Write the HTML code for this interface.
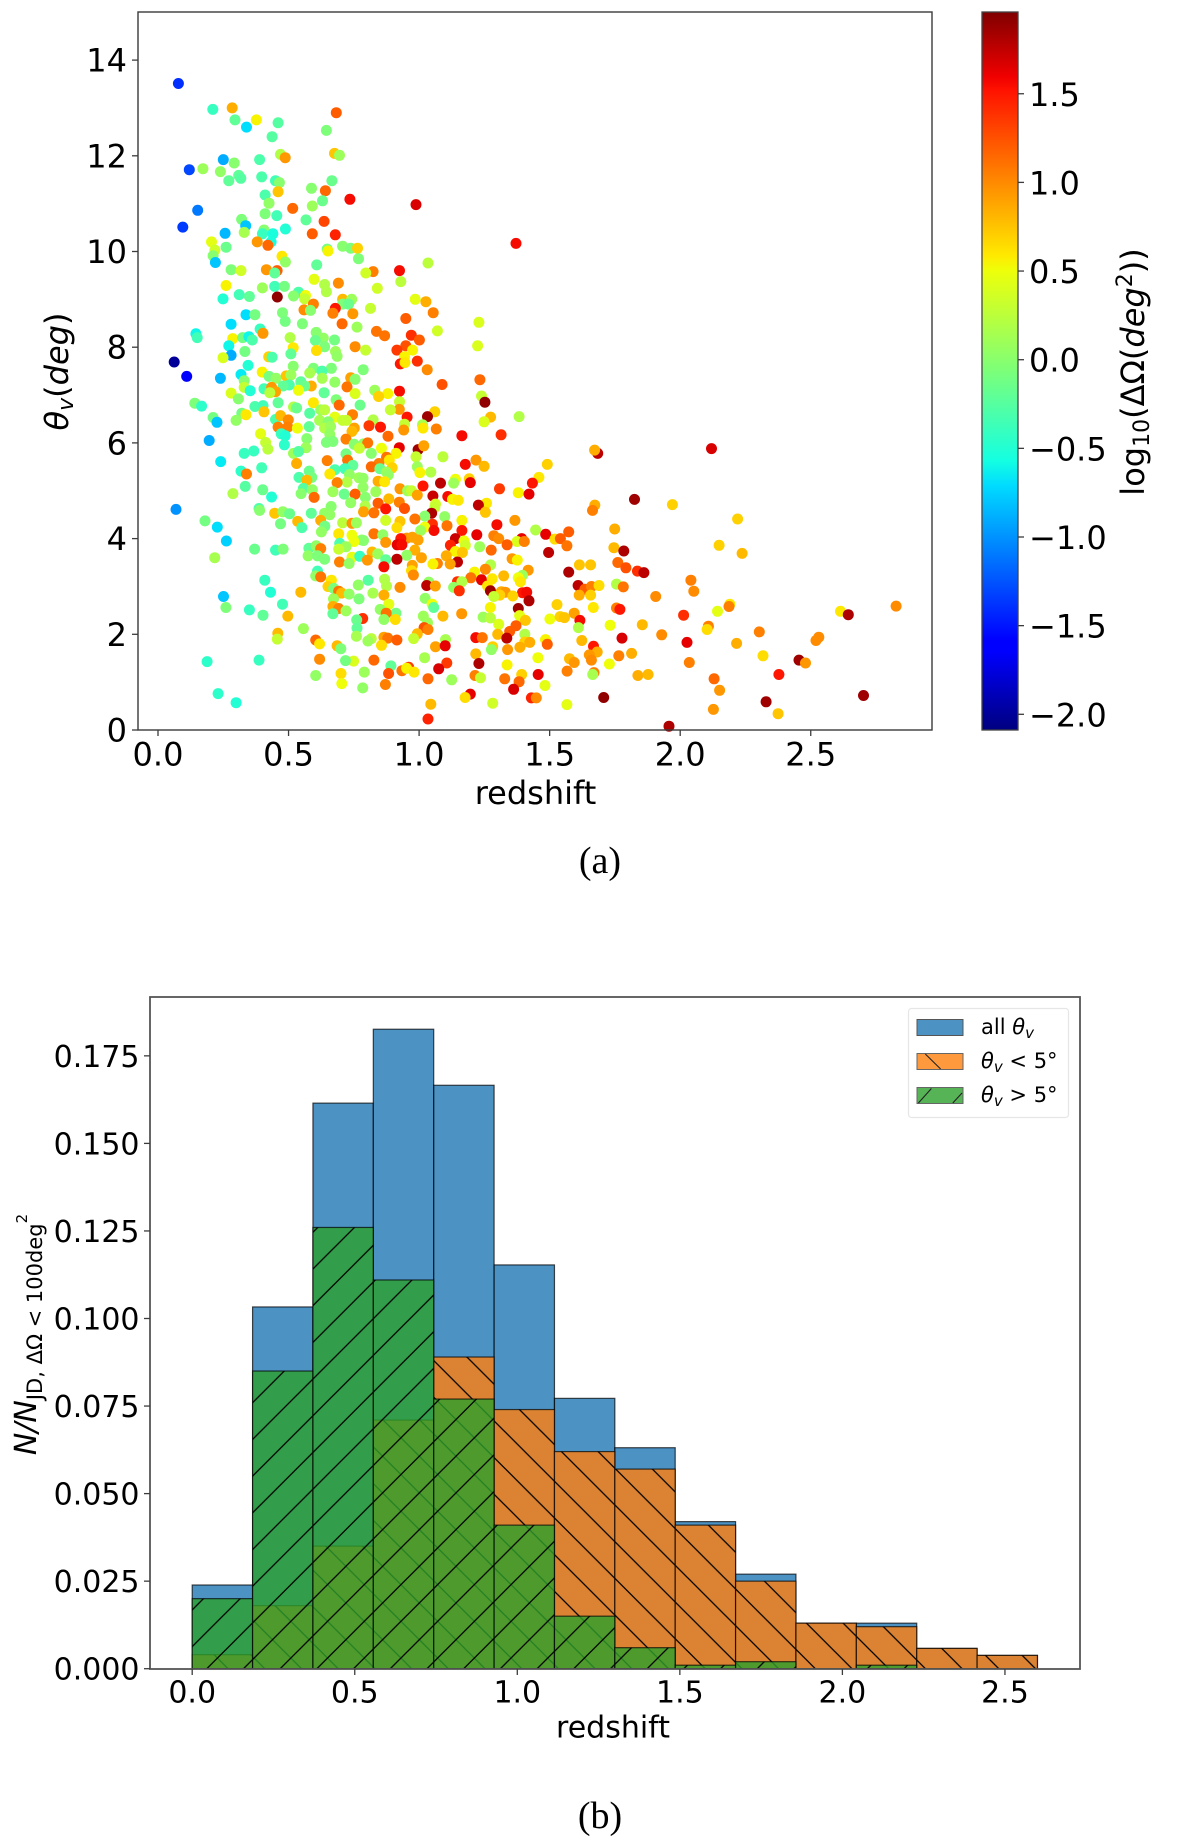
<!DOCTYPE html>
<html lang="en">
<head>
<meta charset="utf-8">
<title>Viewing angle vs redshift scatter and histogram</title>
<style>
html,body{margin:0;padding:0;background:#fff;width:1200px;height:1847px;overflow:hidden}
svg{display:block;font-family:"DejaVu Sans","Liberation Sans",sans-serif;fill:#000}
.math{font-style:italic}
.serif{font-family:"Liberation Serif",serif}
</style>
</head>
<body>
<svg id="figure" xmlns="http://www.w3.org/2000/svg" width="1200" height="1847" viewBox="0 0 1200 1847">
  <defs>
    <linearGradient id="jetGrad" x1="0" y1="1" x2="0" y2="0">
      <stop offset="0" stop-color="#000080"/><stop offset="0.11" stop-color="#0000ff"/>
      <stop offset="0.125" stop-color="#0000ff"/><stop offset="0.34" stop-color="#00dbff"/>
      <stop offset="0.375" stop-color="#14ffe2"/><stop offset="0.5" stop-color="#7cff79"/>
      <stop offset="0.64" stop-color="#eeff09"/><stop offset="0.66" stop-color="#ffea00"/>
      <stop offset="0.89" stop-color="#ff1300"/><stop offset="0.91" stop-color="#f00000"/>
      <stop offset="1" stop-color="#800000"/>
    </linearGradient>
    <pattern id="hatchBack" patternUnits="userSpaceOnUse" width="36.7" height="36.7" patternTransform="translate(27.4,0)">
      <path d="M-1,-1 L37.7,37.7 M-1,35.7 L1,37.7 M35.7,-1 L37.7,1" stroke="#000" stroke-width="1.3" fill="none"/>
    </pattern>
    <pattern id="hatchFwd" patternUnits="userSpaceOnUse" width="36.7" height="36.7" patternTransform="translate(3.8,0)">
      <path d="M-1,37.7 L37.7,-1 M-1,1 L1,-1 M35.7,37.7 L37.7,35.7" stroke="#000" stroke-width="1.3" fill="none"/>
    </pattern>
  </defs>

  <g id="panelA">
    <rect x="138" y="12" width="794" height="718" fill="#fff"/>
    <g id="dots"></g>
    <rect x="138" y="12" width="794" height="718" fill="none" stroke="#3a3a3a" stroke-width="1.4"/>
    <g id="axisA"></g>
    <text x="535.5" y="804" font-size="32" text-anchor="middle">redshift</text>
    <text transform="translate(68,371.5) rotate(-90)" font-size="32" text-anchor="middle"><tspan class="math">θ</tspan><tspan class="math" font-size="22" dy="5">v</tspan><tspan dy="-5">(</tspan><tspan class="math">deg</tspan><tspan>)</tspan></text>
    <rect x="982" y="12" width="36" height="718" fill="url(#jetGrad)" stroke="#444" stroke-width="1.3"/>
    <g id="axisC"></g>
    <text transform="translate(1144,372) rotate(-90)" font-size="32" text-anchor="middle">log<tspan font-size="22" dy="5">10</tspan><tspan dy="-5">(ΔΩ(</tspan><tspan class="math">deg</tspan><tspan font-size="22" dy="-12">2</tspan><tspan dy="12">))</tspan></text>
    <text class="serif" x="600" y="873" font-size="38" text-anchor="middle">(a)</text>
  </g>

  <g id="panelB">
    <g id="bars"></g>
    <rect x="150" y="997" width="930" height="672" fill="none" stroke="#555" stroke-width="1.8"/>
    <g id="axisB"></g>
    <text x="613" y="1737.5" font-size="30" text-anchor="middle">redshift</text>
    <text transform="translate(36,1334.5) rotate(-90)" font-size="30" text-anchor="middle"><tspan class="math">N/N</tspan><tspan font-size="21" dy="6">JD, ΔΩ &lt; 100deg</tspan><tspan font-size="15" dy="-15">2</tspan></text>
    <g>
      <rect x="908.5" y="1008.5" width="160" height="109" rx="3" fill="#fff" stroke="#e6e6e6" stroke-width="1.2"/>
      <g>
        <rect x="917" y="1019.5" width="46" height="16" fill="#4c92c3" stroke="#555" stroke-width="1"/>
        <text x="981" y="1034" font-size="21">all <tspan class="math">θ</tspan><tspan class="math" font-size="15" dy="4">v</tspan></text>
      </g>
      <g>
        <rect x="917" y="1053.5" width="46" height="16" fill="#ff993e" stroke="#666" stroke-width="1"/>
        <path d="M925.3,1054 L940.6,1069" stroke="#222" stroke-width="1.1" fill="none"/>
        <text x="981" y="1068" font-size="21"><tspan class="math">θ</tspan><tspan class="math" font-size="15" dy="4">v</tspan><tspan dy="-4"> &lt; 5°</tspan></text>
      </g>
      <g>
        <rect x="917" y="1087.5" width="46" height="16" fill="#56b356" stroke="#666" stroke-width="1"/>
        <path d="M918.4,1103 L931.4,1088.5 M952.8,1103 L962,1093" stroke="#222" stroke-width="1.1" fill="none"/>
        <text x="981" y="1102" font-size="21"><tspan class="math">θ</tspan><tspan class="math" font-size="15" dy="4">v</tspan><tspan dy="-4"> &gt; 5°</tspan></text>
      </g>
    </g>
    <text class="serif" x="600" y="1828" font-size="38" text-anchor="middle">(b)</text>
  </g>
</svg>

<script>
const redshift = [.078,.21,.284,.295,.339,.377,.46,.437,.645,.683,.469,.487,.676,.695,.25,.292,.389,.12,.172,.239,.309,.317,.271,.397,.45,.465,.666,.588,.641,.46,.41,.735,.988,.152,.425,.591,.63,.516,.41,.455,.32,.567,.636,.095,.336,.257,.33,.406,.4,.44,.488,.591,.679,.433,.38,.421,1.371,.205,.218,.261,.707,.738,.764,.648,.651,.475,.211,.768,.488,.22,1.034,.608,.28,.318,.415,.456,.447,.824,.796,.925,.93,.598,.691,.261,.447,.484,.638,.645,.4,.84,.538,.311,.35,.249,.457,.519,.565,.562,.707,.742,.985,1.026,.595,.707,.73,.679,.814,.559,.584,.67,.746,1.054,.337,.371,.477,.487,.949,1.229,.28,.553,.705,.762,.391,.145,.15,.402,.606,.837,.868,1.07,.286,.324,.348,.361,.506,.633,.603,.676,.97,1.001,.271,1.224,.518,.755,.638,.949,.915,.975,.607,.795,.333,.68,.509,.28,.249,.424,.437,.686,.944,.062,.345,.928,.946,.993,.518,1.031,.664,.595,.786,.399,.581,.628,.11,.239,.318,.425,.452,.491,.509,.629,.738,.755,1.233,1.088,.33,.547,.677,.587,.562,.503,.479,.33,.406,.435,.45,.724,.538,.353,.428,.636,.83,.925,.88,.28,.755,.845,1.239,.308,.682,1.252,.925,.595,.46,.141,.167,.774,.694,.371,.402,.519,.531,.924,.89,.623,.638,.406,.581,.321,.337,1.06,.745,.677,.211,1.032,.954,1.274,1.383,.226,.299,.45,.469,.499,.619,.652,.707,.722,.824,.944,1.013,1.249,.46,.497,.534,.579,.638,.661,.752,.808,.852,.941,1.066,1.015,.393,.472,.658,.743,1.164,1.314,.196,.57,.72,.881,.487,.412,.645,.67,.751,.787,.803,.484,.567,.421,.771,.856,.924,.996,1.018,.367,.33,.519,.538,.817,.912,.72,1.091,.988,.875,.24,.531,.648,.886,.726,1.218,1.177,.746,.846,1.249,1.491,.817,.897,.397,.318,.339,.579,.85,.993,.875,1.003,1.045,.677,.716,.658,.733,.882,.54,.589,.77,.785,1.139,1.192,.57,.724,.686,.843,.868,1.459,1.196,1.132,1.082,1.434,.334,1.015,.785,.557,.927,.956,.971,1.308,.401,.591,.993,.287,.548,.67,.713,.755,.834,1.38,1.421,.435,.598,.794,1.053,1.11,1.128,1.15,.884,.738,.843,.924,1.063,1.258,1.227,.069,.387,.663,.793,.872,.944,1.06,.389,.787,.827,1.254,.447,.478,.504,.587,1.048,.638,.658,1.022,1.098,.18,.535,.623,.872,.984,1.164,1.367,.469,.707,.743,.76,.927,1.051,1.107,1.298,.227,.551,.639,.915,1.022,1.006,.626,1.057,1.164,1.446,1.573,.262,.692,.827,1.485,.743,.861,1.286,1.221,1.52,1.541,.953,.974,.93,1.139,1.305,1.393,.78,.787,.751,.996,1.375,1.403,1.172,.696,.872,.916,.934,1.12,1.177,1.337,1.566,.72,.578,.606,.623,.692,.984,1.232,.37,.45,.479,1.276,1.139,1.166,.82,1.496,.575,.611,.842,.953,.743,.773,.217,.638,1.104,1.009,.802,.872,.915,1.356,1.376,.695,.732,1.07,1.053,1.147,1.119,.974,.865,1.274,1.614,.971,1.418,1.254,1.573,1.212,1.396,.611,.978,1.324,.604,.623,1.198,1.239,1.38,1.388,1.28,1.147,1.164,.409,.805,.868,.664,.767,1.037,.875,1.029,1.062,.927,.651,.673,1.132,1.262,1.609,1.635,1.66,1.154,1.273,.692,.547,.431,.703,.732,.823,1.315,1.33,1.396,1.412,.865,1.309,1.286,1.359,.251,1.657,1.613,.77,.672,1.023,1.421,.477,.884,1.05,1.528,.26,.67,.692,1.056,1.273,1.667,.35,.851,.72,1.38,.911,.874,.67,.402,1.163,1.594,1.016,1.385,1.091,.497,1.501,1.54,1.557,1.245,1.273,.865,.909,.784,.761,1.407,1.616,1.032,1.305,1.371,1.61,.762,1.019,.557,1.034,1.347,.993,.459,1.301,1.405,.457,.76,.865,.88,.915,1.217,1.242,1.336,.817,.804,.604,1.101,1.484,1.405,1.424,1.491,.979,1.623,.619,.686,.856,1.063,1.1,1.282,1.386,1.668,.7,1.339,1.277,1.217,.749,.718,.827,.619,.188,.387,1.021,1.455,1.576,1.594,1.229,1.106,1.337,.892,.96,.934,.952,1.075,.981,.701,.883,.79,.604,1.456,1.393,1.567,1.67,1.665,1.214,1.235,1.034,1.328,1.125,1.383,.704,.871,1.482,.784,1.362,.23,1.196,1.176,1.43,1.449,.299,1.282,1.566,1.045,1.034,1.684,1.672,2.12,1.825,1.97,1.673,1.664,2.22,1.749,2.149,1.746,1.784,2.237,1.761,1.657,1.792,1.836,1.861,2.041,1.756,1.782,1.689,2.052,1.906,2.19,2.187,2.143,1.756,1.769,2.614,2.644,2.827,2.013,1.732,1.855,2.108,2.103,2.303,2.531,2.52,1.929,1.777,2.026,2.216,1.682,1.652,1.66,1.814,1.765,2.317,2.455,2.48,2.035,1.729,2.378,1.838,1.877,2.13,2.151,1.707,2.329,2.702,2.127,2.375,1.957];
const thetaV = [13.51,12.97,13.0,12.75,12.6,12.75,12.69,12.4,12.53,12.9,12.03,11.96,12.05,12.01,11.92,11.85,11.92,11.71,11.73,11.67,11.59,11.53,11.48,11.56,11.48,11.44,11.48,11.32,11.27,11.25,11.18,11.09,10.98,10.86,11.01,10.95,11.06,10.9,10.79,10.75,10.67,10.66,10.63,10.51,10.54,10.38,10.4,10.45,10.37,10.37,10.47,10.37,10.35,10.2,10.2,10.13,10.17,10.2,10.03,10.09,10.11,10.07,10.07,10.05,10.01,9.9,9.91,9.85,9.78,9.77,9.76,9.72,9.62,9.6,9.62,9.6,9.55,9.58,9.55,9.6,9.37,9.42,9.34,9.29,9.27,9.27,9.31,9.16,9.24,9.23,9.15,9.1,9.06,9.01,9.05,9.07,9.08,9.01,9.0,9.0,9.0,8.95,8.9,8.9,8.9,8.81,8.81,8.78,8.77,8.71,8.7,8.72,8.68,8.68,8.72,8.54,8.6,8.52,8.48,8.49,8.49,8.42,8.38,8.28,8.2,8.29,8.31,8.33,8.24,8.34,8.18,8.2,8.22,8.15,8.2,8.19,8.14,8.15,8.25,8.15,8.03,8.03,7.99,8.01,8.01,8.03,7.94,7.94,7.93,7.94,7.91,7.91,7.86,7.83,7.78,7.8,7.79,7.81,7.8,7.69,7.62,7.65,7.68,7.71,7.6,7.53,7.56,7.56,7.53,7.48,7.46,7.5,7.39,7.35,7.43,7.39,7.35,7.4,7.42,7.35,7.36,7.33,7.32,7.22,7.3,7.28,7.27,7.19,7.19,7.21,7.19,7.16,7.13,7.16,7.07,7.17,7.1,7.09,7.05,7.05,7.1,7.08,7.03,7.04,7.03,6.97,6.98,6.92,6.9,6.85,6.86,6.84,6.84,6.83,6.77,6.79,6.79,6.76,6.78,6.75,6.73,6.7,6.69,6.69,6.69,6.65,6.62,6.62,6.59,6.65,6.59,6.54,6.53,6.55,6.54,6.54,6.55,6.43,6.47,6.49,6.57,6.48,6.47,6.44,6.47,6.47,6.48,6.39,6.38,6.44,6.33,6.33,6.31,6.34,6.31,6.34,6.31,6.36,6.33,6.27,6.29,6.31,6.19,6.19,6.18,6.24,6.15,6.17,6.05,6.09,6.08,6.14,6.15,6.01,6.01,6.03,5.97,5.98,6.0,5.96,5.9,5.87,5.89,5.89,5.9,5.86,5.94,5.83,5.78,5.78,5.82,5.78,5.78,5.77,5.71,5.71,5.7,5.61,5.57,5.63,5.64,5.64,5.64,5.55,5.53,5.57,5.51,5.55,5.5,5.48,5.48,5.41,5.35,5.41,5.46,5.5,5.39,5.38,5.39,5.44,5.46,5.35,5.34,5.33,5.28,5.28,5.27,5.26,5.24,5.25,5.22,5.18,5.17,5.2,5.19,5.28,5.17,5.16,5.16,5.16,5.09,5.1,5.07,5.05,5.04,5.0,5.0,5.04,5.02,5.02,4.91,4.94,4.94,4.98,4.93,4.93,4.98,4.96,4.93,4.87,4.86,4.86,4.89,4.88,4.82,4.8,4.83,4.75,4.74,4.76,4.72,4.74,4.7,4.61,4.63,4.67,4.68,4.62,4.63,4.65,4.59,4.56,4.54,4.55,4.53,4.56,4.52,4.53,4.53,4.53,4.5,4.47,4.46,4.37,4.36,4.38,4.38,4.41,4.38,4.38,4.31,4.33,4.32,4.33,4.36,4.3,4.27,4.29,4.24,4.23,4.26,4.23,4.24,4.17,4.14,4.17,4.17,4.18,4.14,3.95,4.1,4.1,4.09,4.07,4.08,4.06,4.08,3.99,4.0,4.01,4.03,4.0,4.0,4.0,4.0,3.97,3.96,3.94,3.97,3.94,3.94,3.95,3.9,3.92,3.87,3.87,3.86,3.86,3.87,3.85,3.83,3.8,3.85,3.79,3.78,3.76,3.83,3.78,3.76,3.78,3.76,3.73,3.71,3.72,3.71,3.64,3.64,3.68,3.65,3.61,3.63,3.6,3.57,3.64,3.6,3.55,3.56,3.57,3.58,3.55,3.51,3.48,3.48,3.47,3.51,3.47,3.44,3.41,3.45,3.45,3.33,3.34,3.36,3.3,3.3,3.23,3.32,3.24,3.22,3.22,3.2,3.18,3.14,3.18,3.1,3.16,3.1,3.1,3.13,3.13,3.15,3.13,3.03,3.09,3.01,3.02,3.01,2.98,3.0,2.96,2.98,3.01,3.02,2.94,3.0,2.91,2.91,2.9,2.88,2.88,2.86,2.84,2.86,2.89,2.88,2.87,2.88,2.82,2.82,2.79,2.8,2.79,2.82,2.82,2.74,2.74,2.75,2.7,2.63,2.63,2.63,2.62,2.56,2.58,2.54,2.56,2.56,2.56,2.51,2.52,2.49,2.54,2.44,2.44,2.43,2.4,2.43,2.44,2.38,2.39,2.38,2.38,2.32,2.37,2.35,2.36,2.34,2.31,2.31,2.33,2.3,2.29,2.29,2.24,2.21,2.18,2.14,2.13,2.14,2.12,2.1,2.06,2.01,2.02,2.0,2.0,1.9,1.96,1.94,1.92,1.88,1.93,1.93,1.92,1.91,1.86,1.88,1.89,1.89,1.84,1.83,1.79,1.91,1.87,1.8,1.76,1.77,1.74,1.76,1.74,1.73,1.75,1.7,1.68,1.68,1.59,1.44,1.45,1.46,1.48,1.43,1.46,1.51,1.51,1.49,1.41,1.39,1.4,1.36,1.34,1.31,1.24,1.29,1.28,1.21,1.18,1.18,1.21,1.14,1.16,1.16,1.23,1.2,1.16,1.14,1.09,1.07,1.07,1.05,1.01,.97,.95,.93,.88,.85,.76,.75,.68,.67,.67,.57,.56,.53,.54,.23,5.78,5.85,5.88,4.82,4.71,4.7,4.59,4.41,4.2,3.86,3.81,3.74,3.69,3.5,3.45,3.39,3.32,3.29,3.13,3.05,2.99,3.02,2.9,2.79,2.63,2.58,2.48,2.55,2.52,2.48,2.41,2.59,2.4,2.19,2.2,2.17,2.1,2.05,1.94,1.87,1.99,1.92,1.83,1.81,1.63,1.57,1.46,1.6,1.55,1.55,1.46,1.4,1.41,1.38,1.16,1.14,1.16,1.07,.83,.68,.59,.72,.43,.34,.08];
const logArea = [-1.4,-.4,.85,-.2,-.7,.55,-.25,-.25,-.05,1.2,.2,.95,.75,.1,-.9,0,-.3,-1.3,.1,.05,-.2,-.25,-.2,-.3,-.35,0,-.15,0,1.15,.75,-.3,1.55,1.65,-1.1,.05,.1,-.15,1.15,-.05,-.35,-.05,-.2,1.3,-1.35,-.8,-.85,.15,0,-.4,-.55,-.5,1.2,1.45,-.55,.95,1.15,1.55,.45,.35,-.15,0,-.05,.7,-.1,.55,.6,0,-.05,.05,-.8,.25,-.2,-.05,.35,.95,1.2,-.2,1.05,.35,1.55,.25,.45,1,.55,-.35,-.1,.2,.2,.1,.35,-.3,-.35,-.2,-.5,1.9,0,.5,.3,.8,.1,.45,.85,1.05,-.05,-.15,1.5,.3,1,0,1.05,.95,1.05,-.7,-.1,-.05,-.1,1.2,.4,-.7,-.05,1.15,.1,-.4,-.6,-.35,.95,0,1.1,1.1,.35,.55,-.1,-.6,-.3,.2,.05,-.15,-.1,1.4,1.2,-.6,.4,.6,1,-.05,1.25,1.35,.55,.65,.3,-.1,.1,-.2,-.9,.4,.7,-.3,.05,.55,-2,-.5,1.5,.6,1.4,0,1,-.05,-.05,-.05,.55,.15,-.3,-1.6,-.85,-.65,-.1,.05,.75,.1,.15,.9,0,1.15,1.25,0,-.2,.05,.85,-.15,-.3,-.2,.3,-.35,.95,.9,1.1,.5,-.5,.25,-.2,.1,1.55,.55,.4,.4,.7,.3,0,-.05,1.9,.3,.6,-.2,-.05,-.45,-.15,1.15,-.3,-.35,.2,-.15,.95,.3,.1,.25,.75,-.25,-.1,.6,.7,1.05,.45,-.1,1.85,1.5,.8,.2,-.8,.05,-.3,.8,1,.15,0,.3,.3,.2,.3,.15,.4,1.05,1.05,.5,-.2,.2,.1,.9,1.35,1.5,.95,1.05,.6,.45,-.4,.05,.8,1.55,1.4,-.9,0,1.05,1.15,-.5,.3,-.05,-.05,0,.05,1.1,-.45,.1,.25,.3,.5,1.6,1.85,.9,-.4,-.4,.1,-.25,0,.55,-.1,.25,.3,1.1,-.65,.85,1.05,.6,1.1,.95,1.55,-.2,1.05,.8,.7,1.15,.7,-.35,-.45,1.05,-.15,-.15,.1,.1,.55,.2,-.3,-.35,.6,.05,.05,-.3,-.1,.1,.05,.5,.7,.8,.2,1.05,.85,.6,.6,1.6,.1,1.75,1.5,-.25,1.5,.05,-.25,.95,.1,.3,1.35,-.15,.05,.9,.2,0,.1,-.15,1.2,.1,.55,1.6,-.5,1.15,0,1.7,1.55,.55,.6,.8,.05,1.2,1.05,.35,.6,1.75,-1,-.3,0,.2,1.5,1.25,.3,0,.9,1.1,.75,.75,.05,-.15,-.2,1.8,.05,.05,0,.05,-.1,.8,.85,.35,1.1,.55,.95,-.1,.25,.95,.1,.75,1.4,1.1,1.55,-.7,-.3,-.1,.65,.5,.1,.05,1.55,1.5,.2,1.2,-.75,.6,1.1,1.6,.5,.05,1.05,1.6,.65,1.2,.95,.9,1.5,1.7,1,1.6,.05,0,.5,.9,.4,1.05,.5,-.3,.95,1.6,1.55,1.45,.35,1.2,1.1,.1,-.2,.05,1.05,.3,.85,.1,-.15,-.35,-.05,1.15,.55,.75,.8,1.75,.05,-.05,.1,.05,.45,-.4,.15,-.05,.85,.9,.95,-.2,1.75,.95,.55,1.05,.05,1.05,.55,1.75,.9,.9,1.55,.2,.75,.65,.95,1,1.8,.55,.1,-.35,1,.8,.05,1.1,1.1,1.6,.5,.6,.6,1.4,.2,-.4,-.25,.2,.6,.05,.05,.2,1.75,.9,1,.7,-.05,.05,.6,1.75,1.2,1.05,1.4,1.85,1.1,.8,-.5,.8,.05,.15,.85,.95,1.5,1.55,.85,.7,.3,.7,-.8,.7,.85,-.05,.1,.05,1.8,-.35,.45,.5,.7,-.05,.85,1.05,-.2,.55,.6,-.4,.05,.1,1.85,-.1,1.1,-.2,-.2,.95,.9,.1,.45,.8,.8,.5,.7,.75,.1,.25,.05,.65,1.4,-.15,.75,1.55,.1,.4,1.2,.2,-.2,1.25,.1,1.05,1.2,.8,.8,.8,.2,.3,.15,.9,1.1,1.2,1.55,1.1,1.75,.25,.1,1.15,.15,.55,.7,.85,1.2,.3,.8,.6,.8,.65,.9,1.6,.7,.85,1.5,-.05,.95,.05,.8,.4,-.1,1.15,1,-.45,-.4,.15,.5,.8,.95,1.8,1.35,.55,-.2,1.35,1.1,.55,1.65,.6,.65,1.25,.1,.05,1.6,.7,1.05,1.05,.15,1.05,.3,1.15,1.1,.1,1.15,.5,1.05,.45,.05,1.65,-.45,1.6,.65,1.45,1,-.5,.35,.45,.8,1.45,1.75,.85,1.65,1.85,.7,.85,1.05,.7,.85,.7,.8,1.8,.8,1.15,.75,1.25,1.4,1.75,1.05,.2,1.1,.65,1,1,.6,1.05,.45,1.05,1.5,.6,1.8,1,1.4,.5,.8,1.05,.65,1.05,1,1,1,1.65,1.6,.85,.85,.95,1,.85,1.05,.65,1.85,.95,1.05,.5,1.5,.85,.8,1.15,.95,1.9,1.85,1.85,.95,.75,1.8];

const scatterXTicks = [0, 0.5, 1, 1.5, 2, 2.5];
const scatterXLabels = ["0.0", "0.5", "1.0", "1.5", "2.0", "2.5"];
const scatterYTicks = [0, 2, 4, 6, 8, 10, 12, 14];
const scatterYLabels = ["0", "2", "4", "6", "8", "10", "12", "14"];
const colorTicks = [-2, -1.5, -1, -0.5, 0, 0.5, 1, 1.5];
const colorLabels = ["−2.0", "−1.5", "−1.0", "−0.5", "0.0", "0.5", "1.0", "1.5"];

const binEdges = [0, .1857, .3714, .5571, .7429, .9286, 1.1143, 1.3, 1.4857, 1.6714, 1.8571, 2.0429, 2.2286, 2.4143, 2.6];
const histAll = [.0239, .1033, .1615, .1826, .1666, .1153, .0772, .0631, .042, .027, .013, .013, .0058, .0038];
const histLowAngle = [.004, .018, .035, .071, .089, .074, .062, .057, .041, .025, .013, .012, .0058, .0038];
const histHighAngle = [.02, .085, .126, .111, .077, .041, .015, .006, .001, .002, 0, .001, 0, 0];
const histYTicks = [0, .025, .05, .075, .1, .125, .15, .175];
const histYLabels = ["0.000", "0.025", "0.050", "0.075", "0.100", "0.125", "0.150", "0.175"];

const NS = "http://www.w3.org/2000/svg";
const scatterX = z => 158 + 261.1 * z;
const scatterY = t => 730 - 47.85 * t;
const colorY = v => 359.7 - 177.3 * v;
const histX = z => 192.2 + 325.1 * z;
const histY = v => 1668.7 - 3502 * v;

function jetColor(v) {
  const t = Math.max(0, Math.min(1, (v + 2.087) / 4.047));
  let r, g, b;
  if (t < .35) r = 0; else if (t < .66) r = (t - .35) / .31; else if (t < .89) r = 1; else r = 1 - .5 * (t - .89) / .11;
  if (t < .125) g = 0; else if (t < .375) g = (t - .125) / .25; else if (t < .64) g = 1; else if (t < .91) g = 1 - (t - .64) / .27; else g = 0;
  if (t < .11) b = .5 + .5 * t / .11; else if (t < .34) b = 1; else if (t < .65) b = 1 - (t - .34) / .31; else b = 0;
  return "rgb(" + Math.round(r * 255) + "," + Math.round(g * 255) + "," + Math.round(b * 255) + ")";
}

function drawTick(parent, x1, y1, x2, y2, labelX, labelY, label, size, anchor) {
  const line = document.createElementNS(NS, "line");
  line.setAttribute("x1", x1);
  line.setAttribute("y1", y1);
  line.setAttribute("x2", x2);
  line.setAttribute("y2", y2);
  line.setAttribute("stroke", "#3c3c3c");
  line.setAttribute("stroke-width", "1.3");
  
  
  parent.appendChild(line);
  const text = document.createElementNS(NS, "text");
  text.setAttribute("x", labelX);
  text.setAttribute("y", labelY);
  text.setAttribute("font-size", size);
  text.setAttribute("text-anchor", anchor);
  text.textContent = label;
  
  
  parent.appendChild(text);
}

const dotsGroup = document.getElementById("dots");
const pointCount = Math.min(redshift.length, thetaV.length, logArea.length);
for (let i = 0; i < pointCount; i++) {
  const dot = document.createElementNS(NS, "circle");
  dot.setAttribute("cx", scatterX(redshift[i]).toFixed(1));
  dot.setAttribute("cy", scatterY(thetaV[i]).toFixed(1));
  dot.setAttribute("r", "5.5");
  dot.setAttribute("fill", jetColor(logArea[i]));
  
  
  dotsGroup.appendChild(dot);
}

const axisA = document.getElementById("axisA");
const axisB = document.getElementById("axisB");
const axisC = document.getElementById("axisC");
scatterXTicks.forEach((v, i) => drawTick(axisA, scatterX(v), 730, scatterX(v), 736, scatterX(v), 765.5, scatterXLabels[i], 32, "middle"));
scatterYTicks.forEach((v, i) => drawTick(axisA, 132, scatterY(v), 138, scatterY(v), 127, scatterY(v) + 11.5, scatterYLabels[i], 32, "end"));
colorTicks.forEach((v, i) => drawTick(axisC, 1018, colorY(v), 1024, colorY(v), 1029, colorY(v) + 12, colorLabels[i], 32, "start"));
scatterXTicks.forEach((v, i) => drawTick(axisB, histX(v), 1669, histX(v), 1675, histX(v), 1702.3, scatterXLabels[i], 30, "middle"));
histYTicks.forEach((v, i) => drawTick(axisB, 144, histY(v), 150, histY(v), 139.5, histY(v) + 11, histYLabels[i], 30, "end"));

const barsGroup = document.getElementById("bars");
function barRect(i, v) {
  const x = histX(binEdges[i]);
  const y = histY(v);
  const r = document.createElementNS(NS, "rect");
  r.setAttribute("x", x.toFixed(2));
  r.setAttribute("y", y.toFixed(2));
  r.setAttribute("width", (histX(binEdges[i + 1]) - x).toFixed(2));
  r.setAttribute("height", (histY(0) - y).toFixed(2));
  barsGroup.appendChild(r);
  return r;
}
function drawSeries(values, color, hatch, seriesName) {
  values.forEach((v, i) => {
    if (v <= 0) return;
    const fillRect = barRect(i, v);
    fillRect.setAttribute("fill", color);
    fillRect.setAttribute("fill-opacity", "0.8");
    
    
    const overlay = barRect(i, v);
    overlay.setAttribute("fill", hatch ? "url(#" + hatch + ")" : "none");
    overlay.setAttribute("stroke", "#000");
    overlay.setAttribute("stroke-opacity", "0.7");
    overlay.setAttribute("stroke-width", "1.2");
    
    
  });
}
drawSeries(histAll, "#1f77b4", null, "all-angles");
drawSeries(histLowAngle, "#ff7f0e", "hatchBack", "low-angle");
drawSeries(histHighAngle, "#2ca02c", "hatchFwd", "high-angle");
</script>
</body>
</html>
